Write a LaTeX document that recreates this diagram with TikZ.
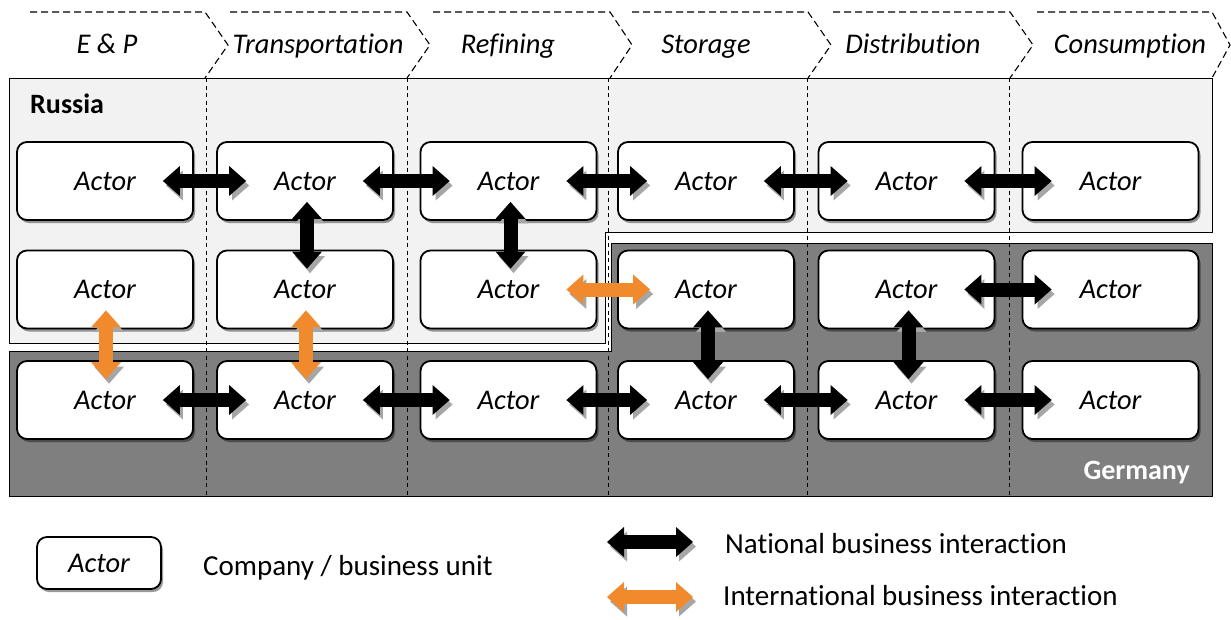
\documentclass[tikz,border=0pt]{standalone}
\usepackage{fontspec}
\setmainfont{Carlito}[Ligatures={CommonOff,ContextualOff}]
\usetikzlibrary{arrows.meta,shadows,calc}
\definecolor{russia}{HTML}{F2F2F2}
\definecolor{germany}{HTML}{7F7F7F}
\definecolor{intl}{HTML}{F08A2C}
\definecolor{ashadow}{HTML}{A6A6A6}
\tikzset{
  actor/.style={draw=black, line width=1.8pt, rounded corners=10pt, fill=white,
    minimum width=176pt, minimum height=78pt, inner sep=0pt,
    font=\fontsize{28.5}{32}\selectfont\itshape,
    drop shadow={shadow xshift=2pt, shadow yshift=-3pt, fill=black, opacity=0.4}},
  link/.style={line width=14pt,
    {Triangle[width=30pt,length=17pt,line width=0pt]}-{Triangle[width=30pt,length=17pt,line width=0pt]},
    preaction={draw=ashadow, transform canvas={xshift=3pt,yshift=-4.5pt}}},
  national/.style={link, draw=black},
  international/.style={link, draw=intl},
  region/.style={draw=black, line width=0.8pt},
  vdash/.style={draw=black, line width=1pt, dash pattern=on 4pt off 3.5pt},
  hdash/.style={draw=black, line width=1.1pt, dash pattern=on 7pt off 4pt},
  hdr/.style={inner sep=0pt, anchor=base, font=\fontsize{28.5}{32}\selectfont\itshape},
  legtext/.style={inner sep=0pt, anchor=base west, font=\fontsize{29}{33}\selectfont},
}
\begin{document}
\begin{tikzpicture}[x=1pt, y=-1pt]
\useasboundingbox (0,0) rectangle (1231,619);
% regions
\path[region, fill=russia] (9,78) -- (1212,78) -- (1212,232) -- (605,232) -- (605,343) -- (9,343) -- cycle;
\path[region, fill=germany] (611,243) -- (1212,243) -- (1212,496) -- (9,496) -- (9,351) -- (611,351) -- cycle;
% column separators
\foreach \x in {206,407,608,807,1009} \draw[vdash] (\x,78) -- (\x,496);
% header chevrons
\foreach \a/\b/\p in {30/205/228, 230/407/430, 433/610/632, 632/808/831, 833/1010/1033, 1037/1212/1230}
  \draw[hdash] (\a,12) -- (\b,12) -- (\p,45) -- (\b,78);
\node[hdr] (h1) at (107,53) {E \& P};
\node[hdr] (h2) at (318,53) {Transportation};
\node[hdr] (h3) at (508,53) {Refining};
\node[hdr] (h4) at (706,53) {Storage};
\node[hdr] (h5) at (913,53) {Distribution};
\node[hdr] (h6) at (1130,53) {Consumption};
% region labels
\node[inner sep=0pt, anchor=base west, font=\fontsize{28}{32}\selectfont\bfseries] (ru) at (30,113) {Russia};
\node[inner sep=0pt, anchor=base east, text=white, font=\fontsize{28}{32}\selectfont\bfseries] (de) at (1190,479) {Germany};
% actors
\foreach \c/\x in {1/105,2/305,3/508.5,4/706,5/906.5,6/1110.5}
  \foreach \r/\y in {1/181,2/289.5,3/400}
    \node[actor] (a\r\c) at (\x,\y) {Actor};
% national interactions
\foreach \r in {1,3}
  \foreach \c/\d in {1/2,2/3,3/4,4/5,5/6}
    \draw[national] ([xshift=-31pt]a\r\c.east) -- ([xshift=30pt]a\r\d.west);
\draw[national] ([xshift=-31pt]a25.east) -- ([xshift=30pt]a26.west);
\foreach \u/\v in {a12/a22, a13/a23, a24/a34, a25/a35}
  \draw[national] ([xshift=2pt,yshift=19pt]\u.south) -- ([xshift=2pt,yshift=-19pt]\v.north);
% international interactions
\foreach \u/\v in {a21/a31, a22/a32}
  \draw[international] ([xshift=1pt,yshift=19pt]\u.south) -- ([xshift=1pt,yshift=-19pt]\v.north);
\draw[international] ([xshift=-31pt]a23.east) -- ([xshift=33pt]a24.west);
% legend
\node[actor, minimum width=124pt, minimum height=52pt] (legbox) at (99,563) {Actor};
\node[legtext] (lt1) at (203,575) {Company / business unit};
\coordinate (n1) at (607,542);
\coordinate (n2) at (693,542);
\draw[national] (n1) -- (n2);
\node[legtext] (lt2) at (725,553) {National business interaction};
\coordinate (i1) at (607,597);
\coordinate (i2) at (693,597);
\draw[international] (i1) -- (i2);
\node[legtext] (lt3) at (723,605) {International business interaction};
\end{tikzpicture}
\end{document}
